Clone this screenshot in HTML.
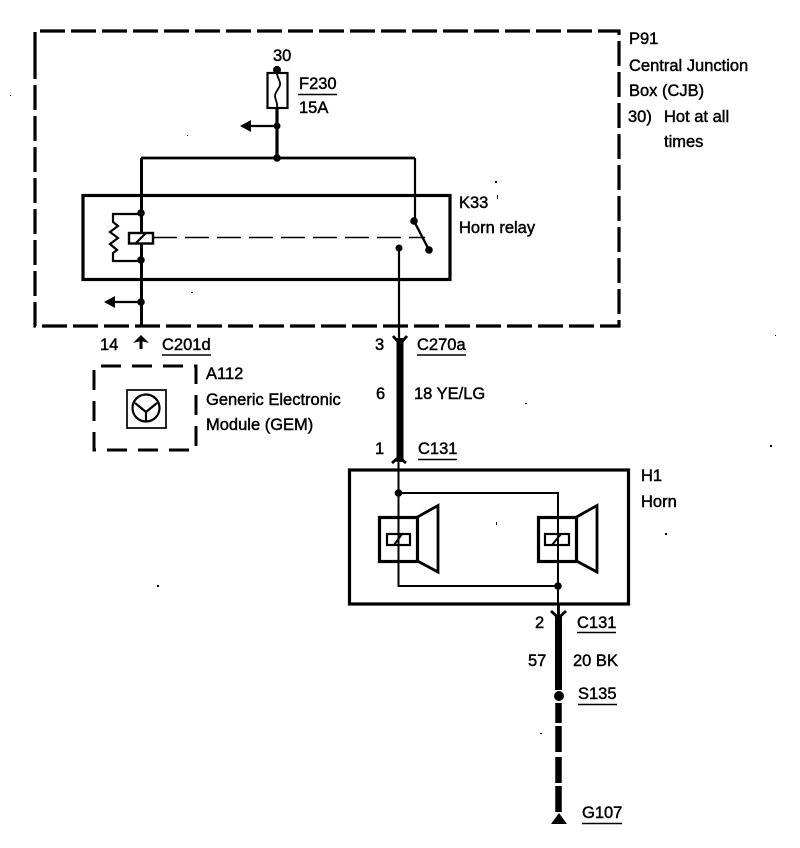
<!DOCTYPE html>
<html><head><meta charset="utf-8"><style>
html,body{margin:0;padding:0;background:#fff}
svg{display:block}
text{font-family:"Liberation Sans",sans-serif;font-size:16.5px;fill:#000;stroke:#000;stroke-width:.45px}
</style></head><body>
<svg width="800" height="848" viewBox="0 0 800 848" xmlns="http://www.w3.org/2000/svg">
<g fill="none" stroke="#000">
<!-- outer dashed -->
<path d="M35 57V31H619V326H35V57" stroke-width="3.200" stroke-dasharray="25 6"/>
<!-- fuse -->
<rect x="267.500" y="73" width="20" height="35" stroke-width="2.200"/>
<path d="M277 73c0 5 4 8 3 12c-1 4-5 7-5 11c0 4 3 6 2 12" stroke-width="1.800"/>
<path d="M277 66V74M277 108V158" stroke-width="3.200"/>
<path d="M141 158H415" stroke-width="2.800"/>
<path d="M141.500 158V327" stroke-width="3"/>
<path d="M415 158V221" stroke-width="2.200"/>
<path d="M250 126H277" stroke-width="2.200"/>
<path d="M114 302H141" stroke-width="2.200"/>
<!-- relay -->
<rect x="83" y="195.500" width="367" height="84" stroke-width="3.200"/>
<path d="M414 221L429 250" stroke-width="2.400"/>
<path d="M399 248V340" stroke-width="2.200"/>
<path d="M153 237.500H425" stroke-width="1.600" stroke-dasharray="24 8"/>
<rect x="129" y="233" width="24" height="10.500" fill="#fff" stroke-width="2.400"/>
<path d="M136 243L146 233" stroke-width="2.200"/>
<path d="M141 214H113V222L118 226L110 232L118 238L110 244L117 250L113 253V261H141" stroke-width="2.200"/>
<!-- thick wires -->
<path d="M400 338V462" stroke-width="7"/>
<path d="M393 336L400 344L407 336" stroke-width="2.800"/>
<path d="M392 463L399 457L406 463" stroke-width="2.800"/>
<path d="M398.500 462V586H558" stroke-width="2"/>
<path d="M398.500 493H558V620" stroke-width="2"/>
<!-- horn box -->
<rect x="349.500" y="470" width="279" height="134" stroke-width="3.200"/>
<!-- speakers -->
<rect x="379.500" y="517.500" width="38" height="44" stroke-width="3.200"/>
<path d="M417.500 517L438 505.500V572L417.500 561Z" stroke-width="2.800"/>
<rect x="387" y="534" width="23" height="11" stroke-width="2.200"/>
<path d="M394 545L402 534" stroke-width="2"/>
<rect x="538.500" y="517.500" width="38" height="44" stroke-width="3.200"/>
<path d="M576.500 517L597 505.500V572L576.500 561Z" stroke-width="2.800"/>
<rect x="545" y="534" width="24" height="11" stroke-width="2.200"/>
<path d="M552 545L561 534" stroke-width="2"/>
<!-- lower wire -->
<path d="M558.500 604V616" stroke-width="2.800"/>
<path d="M551 611L558.500 618L566 611" stroke-width="2.800"/>
<path d="M558.500 616V690" stroke-width="7"/>
<path d="M558.500 703V723M558.500 726V752M558.500 757V783M558.500 786V812" stroke-width="6.500"/>
<!-- A112 -->
<path d="M94 390V366H196V450H94V390" stroke-width="3" stroke-dasharray="20 11"/>
<rect x="127" y="390" width="39" height="38" stroke-width="1.700"/>
<circle cx="146" cy="408" r="13.500" stroke-width="2.200"/>
<path d="M135 403L146 412M146 412V422M146 412L157 403" stroke-width="2.200"/>
<!-- underlines -->
<g stroke-width="1.400">
<path d="M298 94.500H337M162 355H211M417 355H466M418 459.500H457M577 632.500H616M578 704.500H617M582 823.500H622"/>
</g>
</g>
<g fill="#000">
<circle cx="277" cy="70" r="4"/>
<circle cx="277" cy="126" r="3.500"/><circle cx="277" cy="158" r="3.800"/>
<circle cx="141" cy="213" r="3.800"/><circle cx="141" cy="260" r="3.800"/><circle cx="141" cy="302" r="3.800"/>
<circle cx="414" cy="221" r="3.800"/><circle cx="429" cy="250" r="3.800"/><circle cx="399" cy="248" r="3.500"/>
<circle cx="398.500" cy="493" r="3.800"/><circle cx="558" cy="586" r="3.800"/><circle cx="559" cy="696" r="5"/>
<path d="M240 126L251 120V132Z"/><path d="M104 302L115 296V308Z"/>
<path d="M141 335L133 343L141 341L149 343Z"/><rect x="139.500" y="340" width="3" height="9"/>
<path d="M551 824L559 813L567 824Z"/>
<!-- specks -->
<rect x="187" y="135" width="1" height="1"/><rect x="191" y="292" width="2" height="1"/><rect x="157" y="585" width="2" height="2"/>
<rect x="495" y="181" width="2" height="2"/><rect x="497" y="195" width="1" height="4"/><rect x="770" y="445" width="2" height="2"/>
<rect x="665" y="533" width="2" height="2"/><rect x="496" y="522" width="1" height="3"/><rect x="10" y="95" width="1" height="1"/>
<rect x="775" y="335" width="1" height="1"/><rect x="540" y="733" width="2" height="1"/><rect x="525" y="403" width="2" height="1"/>
</g>
<text x="629" y="44">P91</text>
<text x="629" y="71">Central Junction</text>
<text x="629" y="96">Box (CJB)</text>
<text x="628" y="122">30)</text><text x="664" y="122">Hot at all</text>
<text x="664" y="147">times</text>
<text x="459" y="208">K33</text>
<text x="459" y="233">Horn relay</text>
<text x="273" y="61">30</text>
<text x="299" y="89">F230</text>
<text x="299" y="113">15A</text>
<text x="100" y="350">14</text>
<text x="162" y="350">C201d</text>
<text x="206" y="379">A112</text>
<text x="206" y="405">Generic Electronic</text>
<text x="206" y="430">Module (GEM)</text>
<text x="375" y="350">3</text>
<text x="417" y="350">C270a</text>
<text x="376" y="399">6</text>
<text x="414" y="399">18 YE/LG</text>
<text x="375" y="454">1</text>
<text x="418" y="454">C131</text>
<text x="641" y="481">H1</text>
<text x="641" y="507">Horn</text>
<text x="535" y="628">2</text>
<text x="577" y="628">C131</text>
<text x="528" y="666">57</text>
<text x="573" y="666">20 BK</text>
<text x="578" y="699">S135</text>
<text x="582" y="818">G107</text>
</svg>
</body></html>
